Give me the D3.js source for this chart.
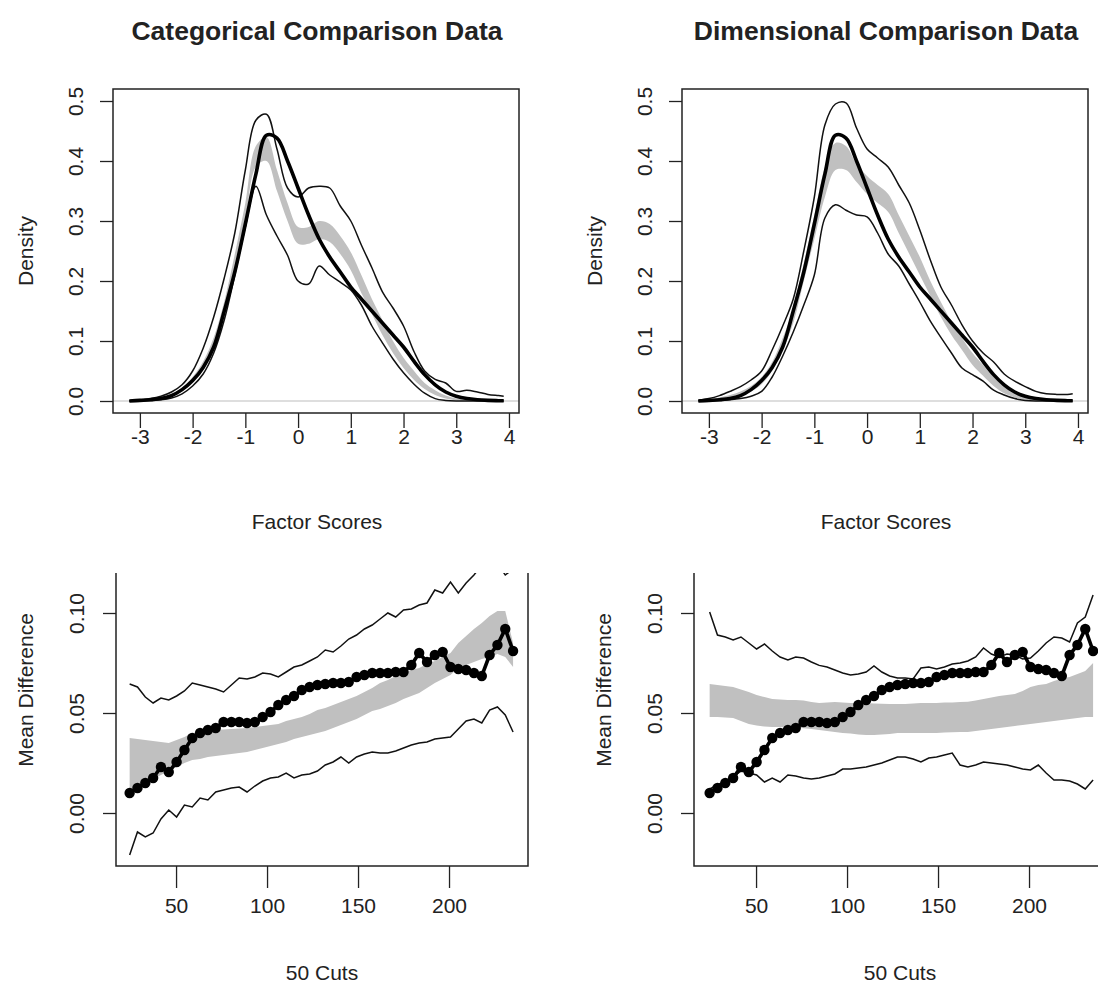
<!DOCTYPE html>
<html><head><meta charset="utf-8">
<script src="https://cdn.jsdelivr.net/npm/d3@7"></script>
<style>
html,body{margin:0;padding:0;background:#fff;}
text{font-family:"Liberation Sans",Arial,Helvetica,sans-serif;fill:#222;}
</style></head>
<body>
<svg id="chart" width="1098" height="984"></svg>
<script>
// ---------- DATA ----------
const panelTitles = ["Categorical Comparison Data", "Dimensional Comparison Data"];
const densityX = [-3.2,-3.0,-2.8,-2.6,-2.4,-2.2,-2.0,-1.8,-1.6,-1.4,-1.2,-1.0,-0.8,-0.6,-0.4,-0.2,0,0.2,0.4,0.6,0.8,1.0,1.2,1.4,1.6,1.8,2.0,2.2,2.4,2.6,2.8,3.0,3.2,3.4,3.6,3.8,3.9];
const observedDensity = [0,0.001,0.002,0.004,0.009,0.019,0.034,0.056,0.09,0.15,0.215,0.295,0.378,0.443,0.438,0.40,0.355,0.31,0.27,0.24,0.215,0.19,0.17,0.15,0.13,0.11,0.09,0.066,0.044,0.027,0.015,0.008,0.004,0.002,0.001,0.0005,0.0003];
const catDensityUpper = [0,0.002,0.004,0.008,0.015,0.027,0.05,0.088,0.14,0.205,0.28,0.385,0.468,0.478,0.42,0.355,0.34,0.355,0.358,0.355,0.325,0.3,0.26,0.222,0.182,0.155,0.125,0.082,0.05,0.036,0.03,0.016,0.018,0.015,0.011,0.009,0.008];
const catDensityLower = [0,0,0.001,0.002,0.005,0.012,0.025,0.045,0.08,0.135,0.21,0.29,0.358,0.31,0.275,0.243,0.2,0.195,0.225,0.21,0.198,0.185,0.16,0.125,0.097,0.07,0.047,0.028,0.013,0.004,0.001,0,0,0,0,0,0];
const catDensityBandLow = [0,0.001,0.002,0.004,0.008,0.016,0.03,0.052,0.087,0.142,0.215,0.3,0.39,0.4,0.35,0.3,0.262,0.262,0.27,0.265,0.245,0.218,0.18,0.145,0.11,0.08,0.055,0.035,0.02,0.01,0.004,0.001,0,0,0,0,0];
const catDensityBandHigh = [0.001,0.002,0.004,0.007,0.012,0.022,0.04,0.066,0.106,0.166,0.245,0.33,0.425,0.44,0.385,0.33,0.29,0.29,0.3,0.295,0.275,0.248,0.21,0.17,0.135,0.1,0.072,0.05,0.03,0.018,0.009,0.004,0.002,0.001,0.001,0.001,0.001];
const dimDensityUpper = [0.001,0.004,0.009,0.016,0.024,0.035,0.05,0.085,0.125,0.17,0.25,0.34,0.46,0.495,0.497,0.455,0.42,0.405,0.39,0.36,0.33,0.285,0.235,0.19,0.16,0.127,0.1,0.08,0.065,0.045,0.033,0.024,0.016,0.012,0.011,0.011,0.012];
const dimDensityLower = [0,0,0.001,0.002,0.004,0.008,0.016,0.04,0.075,0.115,0.16,0.21,0.305,0.327,0.318,0.31,0.307,0.28,0.245,0.225,0.195,0.165,0.133,0.106,0.08,0.055,0.044,0.033,0.018,0.01,0.004,0.001,0,0,0,0,0];
const dimDensityBandLow = [0,0.001,0.003,0.006,0.01,0.016,0.028,0.05,0.085,0.13,0.2,0.27,0.34,0.385,0.385,0.365,0.345,0.33,0.315,0.28,0.245,0.21,0.175,0.14,0.11,0.085,0.06,0.042,0.025,0.013,0.006,0.002,0.001,0,0,0,0];
const dimDensityBandHigh = [0.001,0.003,0.006,0.01,0.016,0.025,0.04,0.065,0.105,0.155,0.23,0.31,0.39,0.43,0.425,0.395,0.375,0.36,0.345,0.31,0.275,0.24,0.2,0.165,0.132,0.105,0.08,0.06,0.04,0.025,0.014,0.007,0.003,0.001,0.001,0.001,0.001];

const cuts = [24.5,28.8,33.1,37.4,41.7,46.0,50.3,54.6,58.9,63.2,67.5,71.8,76.1,80.4,84.7,89.0,93.3,97.6,101.9,106.2,110.5,114.8,119.1,123.4,127.7,132.0,136.3,140.6,144.9,149.2,153.5,157.8,162.1,166.4,170.7,175.0,179.3,183.6,187.9,192.2,196.5,200.8,205.1,209.4,213.7,218.0,222.3,226.6,230.9,235.2];
const observedDiff = [0.010,0.0125,0.015,0.0175,0.023,0.0205,0.0255,0.0315,0.0375,0.040,0.0415,0.0425,0.0455,0.0455,0.0455,0.045,0.0455,0.048,0.0505,0.054,0.0565,0.0585,0.0615,0.063,0.064,0.0645,0.065,0.065,0.0655,0.068,0.069,0.070,0.070,0.070,0.0705,0.0705,0.074,0.080,0.0755,0.079,0.0805,0.073,0.072,0.0715,0.070,0.0685,0.079,0.084,0.092,0.081];
const catDiffUpper = [0.0645,0.063,0.058,0.055,0.0575,0.0565,0.0585,0.061,0.065,0.064,0.063,0.062,0.0605,0.064,0.0675,0.067,0.068,0.070,0.0695,0.068,0.0705,0.073,0.074,0.076,0.078,0.0815,0.0805,0.0835,0.087,0.089,0.092,0.094,0.097,0.100,0.098,0.1015,0.102,0.104,0.105,0.1115,0.110,0.1155,0.110,0.115,0.119,0.124,0.127,0.125,0.119,0.122];
const catDiffLower = [-0.021,-0.0095,-0.012,-0.010,-0.003,0.0015,-0.002,0.004,0.003,0.0075,0.0065,0.0105,0.0115,0.0125,0.013,0.0105,0.0135,0.016,0.0175,0.018,0.020,0.0175,0.019,0.0195,0.021,0.024,0.0255,0.028,0.025,0.028,0.0295,0.0305,0.030,0.030,0.031,0.0325,0.034,0.035,0.0355,0.037,0.0375,0.038,0.042,0.046,0.047,0.045,0.0515,0.053,0.049,0.0405];
const catDiffBandLow = [0.011,0.013,0.015,0.017,0.019,0.021,0.023,0.025,0.0265,0.027,0.028,0.0285,0.029,0.0295,0.030,0.0305,0.0315,0.0325,0.0335,0.0345,0.0355,0.037,0.038,0.039,0.040,0.041,0.0425,0.044,0.0455,0.047,0.049,0.051,0.052,0.0535,0.055,0.057,0.0585,0.060,0.0625,0.065,0.067,0.069,0.0725,0.074,0.0755,0.077,0.078,0.0795,0.078,0.073];
const catDiffBandHigh = [0.0375,0.037,0.0365,0.036,0.0355,0.035,0.0365,0.038,0.040,0.0405,0.041,0.0415,0.0418,0.042,0.0422,0.0425,0.043,0.0435,0.044,0.0445,0.046,0.047,0.048,0.0495,0.0515,0.0525,0.054,0.0555,0.057,0.0585,0.0605,0.0625,0.065,0.0665,0.0685,0.070,0.0715,0.0725,0.0745,0.076,0.078,0.080,0.085,0.0885,0.092,0.095,0.0985,0.101,0.101,0.085];
const dimDiffUpper = [0.1005,0.089,0.088,0.0865,0.088,0.085,0.082,0.0845,0.081,0.078,0.0765,0.078,0.0775,0.0755,0.0738,0.073,0.0715,0.070,0.069,0.0695,0.0705,0.0735,0.0705,0.0685,0.0675,0.0675,0.067,0.0725,0.073,0.072,0.073,0.0745,0.075,0.076,0.078,0.0825,0.0795,0.078,0.0795,0.079,0.077,0.0775,0.081,0.085,0.088,0.0875,0.0855,0.095,0.098,0.109];
const dimDiffLower = [0.012,0.014,0.016,0.018,0.021,0.020,0.019,0.0155,0.0175,0.0155,0.019,0.0185,0.0175,0.017,0.0175,0.0185,0.0195,0.022,0.022,0.0225,0.023,0.024,0.025,0.0265,0.028,0.028,0.027,0.0255,0.0275,0.028,0.029,0.030,0.024,0.023,0.024,0.0255,0.025,0.0245,0.024,0.023,0.022,0.0215,0.024,0.020,0.0165,0.0165,0.016,0.0145,0.012,0.0165];
const dimDiffBandLow = [0.048,0.048,0.0478,0.0475,0.046,0.0445,0.0438,0.0432,0.043,0.043,0.0428,0.0426,0.0424,0.042,0.0415,0.041,0.0405,0.040,0.0397,0.0393,0.039,0.039,0.0392,0.0395,0.040,0.040,0.040,0.040,0.040,0.040,0.0402,0.0404,0.0405,0.0405,0.041,0.0415,0.042,0.0425,0.043,0.0435,0.044,0.0445,0.045,0.0455,0.046,0.0465,0.047,0.0475,0.048,0.048];
const dimDiffBandHigh = [0.0645,0.064,0.0635,0.063,0.0618,0.0605,0.059,0.058,0.057,0.0567,0.0565,0.0565,0.0563,0.0555,0.055,0.0552,0.0555,0.0553,0.055,0.055,0.055,0.0548,0.0546,0.0545,0.0545,0.0545,0.0547,0.055,0.055,0.055,0.0552,0.0553,0.0555,0.0556,0.0563,0.057,0.0578,0.0585,0.059,0.0595,0.061,0.063,0.064,0.0645,0.066,0.0672,0.068,0.0695,0.071,0.075];

const densityTicksX = [-3,-2,-1,0,1,2,3,4];
const densityTickLabelsX = ["-3","-2","-1","0","1","2","3","4"];
const densityTicksY = [0,0.1,0.2,0.3,0.4,0.5];
const densityTickLabelsY = ["0.0","0.1","0.2","0.3","0.4","0.5"];
const cutTicks = [50,100,150,200];
const cutTickLabels = ["50","100","150","200"];
const diffTicksY = [0,0.05,0.10];
const diffTickLabelsY = ["0.00","0.05","0.10"];

// ---------- DRAW ----------
const svg = d3.select("#chart");
const BAND = "#c0c0c0";
const FS = 21;

function yTickLabels(g, labels, offset) {
  g.selectAll(".tick text").each(function(d, i) {
    d3.select(this).text(labels[i]).attr("x", 0).attr("dy", null)
      .attr("transform", `translate(${-offset},0) rotate(-90)`)
      .attr("text-anchor", "middle").attr("dominant-baseline", "central");
  });
}

function densityPanel(p) {
  const x = d3.scaleLinear().domain([-3.51, 4.19]).range([p.left, p.left + 406]);
  const y = d3.scaleLinear().domain([-0.02, 0.52]).range([413, 89]);
  const g = svg.append("g");
  const clipId = "clip" + p.id;
  svg.append("clipPath").attr("id", clipId).append("rect")
    .attr("x", x.range()[0]).attr("y", 89).attr("width", 406).attr("height", 324);
  const plot = g.append("g").attr("clip-path", `url(#${clipId})`);
  const curve = d3.curveCatmullRom.alpha(0.5);
  const band = d3.area().x((d, i) => x(densityX[i])).y0((d, i) => y(p.low[i])).y1((d, i) => y(p.high[i])).curve(curve);
  plot.append("path").datum(densityX).attr("d", band).attr("fill", BAND).attr("stroke", "none");
  plot.append("line").attr("x1", x.range()[0]).attr("x2", x.range()[1]).attr("y1", y(0)).attr("y2", y(0))
    .attr("stroke", "#bdbdbd").attr("stroke-width", 1.2);
  const line = arr => d3.line().x((d, i) => x(densityX[i])).y((d, i) => y(arr[i])).curve(curve)(densityX);
  plot.append("path").attr("d", line(p.upper)).attr("fill", "none").attr("stroke", "#111").attr("stroke-width", 1.5);
  plot.append("path").attr("d", line(p.lower)).attr("fill", "none").attr("stroke", "#111").attr("stroke-width", 1.5);
  plot.append("path").attr("d", line(observedDensity)).attr("fill", "none").attr("stroke", "#000").attr("stroke-width", 3.6);
  g.append("rect").attr("x", x.range()[0]).attr("y", 89).attr("width", 406).attr("height", 324)
    .attr("fill", "none").attr("stroke", "#222").attr("stroke-width", 1.5);
  const ax = g.append("g").attr("transform", "translate(0,413)")
    .call(d3.axisBottom(x).tickValues(densityTicksX).tickSize(15).tickPadding(1).tickFormat((d, i) => densityTickLabelsX[i]));
  ax.select(".domain").remove();
  ax.selectAll("text").attr("font-size", FS).attr("font-family", "Liberation Sans, Arial, sans-serif");
  ax.selectAll("line").attr("stroke", "#222").attr("stroke-width", 1.3);
  const ay = g.append("g").attr("transform", `translate(${x.range()[0]},0)`)
    .call(d3.axisLeft(y).tickValues(densityTicksY).tickSize(13));
  ay.select(".domain").remove();
  ay.selectAll("line").attr("stroke", "#222").attr("stroke-width", 1.3);
  ay.selectAll("text").attr("font-size", FS).attr("font-family", "Liberation Sans, Arial, sans-serif");
  yTickLabels(ay, densityTickLabelsY, 38);
  svg.append("text").attr("x", p.left + 204).attr("y", 40).attr("text-anchor", "middle")
    .attr("font-size", 26.5).attr("font-weight", "bold").text(p.title);
  svg.append("text").attr("x", p.left + 204).attr("y", 529).attr("text-anchor", "middle")
    .attr("font-size", FS).text("Factor Scores");
  svg.append("text").attr("transform", `translate(${p.left - 88},251) rotate(-90)`).attr("text-anchor", "middle")
    .attr("dominant-baseline", "central").attr("font-size", FS).text("Density");
}

function diffPanel(p) {
  const x = d3.scaleLinear().domain(p.xdom).range([p.left, p.left + 412]);
  const y = d3.scaleLinear().domain([-0.0265, 0.12]).range([866, 573]);
  const g = svg.append("g");
  const clipId = "clipd" + p.id;
  svg.append("clipPath").attr("id", clipId).append("rect")
    .attr("x", p.left).attr("y", 573).attr("width", 412).attr("height", 293);
  const plot = g.append("g").attr("clip-path", `url(#${clipId})`);
  const band = d3.area().x((d, i) => x(cuts[i])).y0((d, i) => y(p.low[i])).y1((d, i) => y(p.high[i]));
  plot.append("path").datum(cuts).attr("d", band).attr("fill", BAND).attr("stroke", "none");
  const line = arr => d3.line().x((d, i) => x(cuts[i])).y((d, i) => y(arr[i]))(cuts);
  plot.append("path").attr("d", line(p.upper)).attr("fill", "none").attr("stroke", "#111").attr("stroke-width", 1.5);
  plot.append("path").attr("d", line(p.lower)).attr("fill", "none").attr("stroke", "#111").attr("stroke-width", 1.5);
  plot.append("path").attr("d", line(observedDiff)).attr("fill", "none").attr("stroke", "#000").attr("stroke-width", 3.6);
  plot.selectAll("circle.pt").data(cuts).enter().append("circle").attr("class", "pt")
    .attr("cx", d => x(d)).attr("cy", (d, i) => y(observedDiff[i])).attr("r", 5.2).attr("fill", "#000");
  g.append("path").attr("d", `M${p.left},573V866H${p.left + 412}V573`).attr("fill", "none")
    .attr("stroke", "#222").attr("stroke-width", 1.5);
  const ax = g.append("g").attr("transform", "translate(0,866)")
    .call(d3.axisBottom(x).tickValues(cutTicks).tickSize(22).tickPadding(10).tickFormat((d, i) => cutTickLabels[i]));
  ax.select(".domain").remove();
  ax.selectAll("line").attr("stroke", "#222").attr("stroke-width", 1.3);
  ax.selectAll("text").attr("font-size", FS).attr("font-family", "Liberation Sans, Arial, sans-serif");
  const ay = g.append("g").attr("transform", `translate(${p.left},0)`)
    .call(d3.axisLeft(y).tickValues(diffTicksY).tickSize(13));
  ay.select(".domain").remove();
  ay.selectAll("line").attr("stroke", "#222").attr("stroke-width", 1.3);
  ay.selectAll("text").attr("font-size", FS).attr("font-family", "Liberation Sans, Arial, sans-serif");
  yTickLabels(ay, diffTickLabelsY, 40);
  svg.append("text").attr("x", p.left + 206).attr("y", 980).attr("text-anchor", "middle")
    .attr("font-size", FS).text("50 Cuts");
  svg.append("text").attr("transform", `translate(${p.left - p.ylabOff},690) rotate(-90)`).attr("text-anchor", "middle")
    .attr("dominant-baseline", "central").attr("font-size", FS).text("Mean Difference");
}

densityPanel({id: "a", left: 113, title: panelTitles[0], upper: catDensityUpper, lower: catDensityLower, low: catDensityBandLow, high: catDensityBandHigh});
densityPanel({id: "b", left: 682, title: panelTitles[1], upper: dimDensityUpper, lower: dimDensityLower, low: dimDensityBandLow, high: dimDensityBandHigh});
diffPanel({id: "c", left: 116, xdom: [17.0, 243.4], ylabOff: 91, upper: catDiffUpper, lower: catDiffLower, low: catDiffBandLow, high: catDiffBandHigh});
diffPanel({id: "d", left: 694, xdom: [15.9, 242.3], ylabOff: 91, upper: dimDiffUpper, lower: dimDiffLower, low: dimDiffBandLow, high: dimDiffBandHigh});
</script>
</body></html>
